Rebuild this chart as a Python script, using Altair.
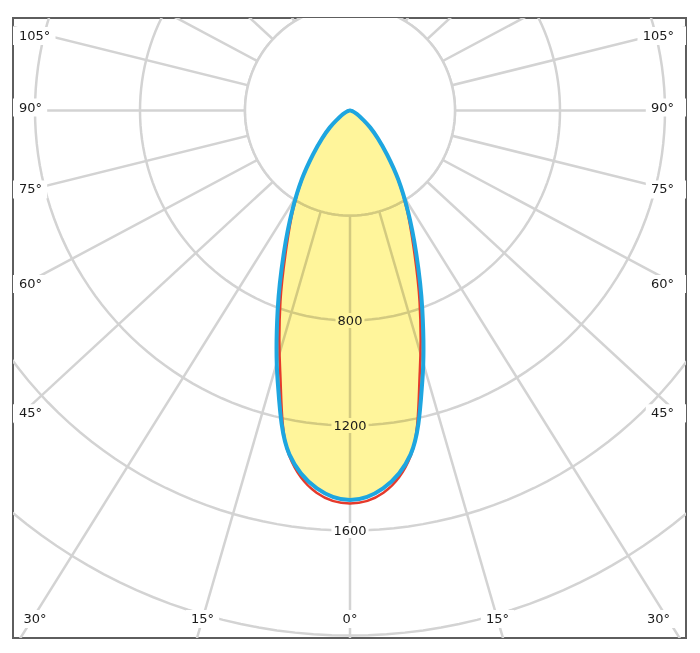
import math
import altair as alt
import pandas as pd

# ---------------- data ----------------
ANGLES = [-90, -85, -80, -75, -70, -65, -60, -55, -50, -45, -40, -35, -30, -25, -20, -15, -10, -5,
          0, 5, 10, 15, 20, 25, 30, 35, 40, 45, 50, 55, 60, 65, 70, 75, 80, 85, 90]
# C90-C270 plane (blue), cd
BLUE_CD = [0, 1, 3, 6, 12, 22, 38, 60, 100, 150, 220, 320, 440, 595, 805, 1065, 1330, 1445,
           1484, 1445, 1330, 1065, 805, 595, 440, 320, 220, 150, 100, 60, 38, 22, 12, 6, 3, 1, 0]
# C0-C180 plane (red), cd
RED_CD = [0, 1, 3, 6, 12, 22, 38, 60, 100, 150, 220, 318, 432, 572, 775, 1028, 1335, 1462,
          1497, 1462, 1335, 1028, 775, 572, 432, 318, 220, 150, 100, 60, 38, 22, 12, 6, 3, 1, 0]

GRID_RADII = [400, 800, 1200, 1600, 2000, 2400]
RAY_ANGLES = [-165, -150, -135, -120, -105, -90, -75, -60, -45, -30, -15, 0,
              15, 30, 45, 60, 75, 90, 105, 120, 135, 150, 165, 180]
SIDE_LABEL_ANGLES = [105, 90, 75, 60, 45]
BOTTOM_LABEL_ANGLES = [-30, -15, 0, 15, 30]
INTENSITY_LABELS = [800, 1200, 1600]

# ---------------- layout / style ----------------
W, H = 673, 620            # plot area in px
PX = 105 / 400             # px per cd
CX, CY = 337.0, 92.5       # pole position inside plot (px)
X_MIN, X_MAX = -CX / PX, (W - CX) / PX
Y_MAX, Y_MIN = CY / PX, -(H - CY) / PX
K = 0.924                  # vertical squash of the angle rays in the reference
RAY_LEN = 4000

GRID = "#d3d3d3"
FONT = "DejaVu Sans"
FS = 13


def px_x(p):
    return (p - CX) / PX


def px_y(p):
    return -(p - CY) / PX


def text_w(t):
    return sum(8.3 if c.isdigit() else 6.6 for c in t)


xs = alt.Scale(domain=[X_MIN, X_MAX], nice=False, zero=False)
ys = alt.Scale(domain=[Y_MIN, Y_MAX], nice=False, zero=False)
X = lambda f: alt.X(f, type="quantitative", scale=xs, axis=None)
Y = lambda f: alt.Y(f, type="quantitative", scale=ys, axis=None)

# ---------------- grid ----------------
circ_angles = list(range(0, 362, 2))
circles = pd.DataFrame([(r, a) for r in GRID_RADII for a in circ_angles], columns=["r", "a"])
circle_layer = alt.Chart(circles).transform_calculate(
    x="datum.r*sin(datum.a*PI/180)", y="-datum.r*cos(datum.a*PI/180)"
).mark_line(stroke=GRID, strokeWidth=2.5, clip=True).encode(
    x=X("x"), y=Y("y"), detail="r:N", order="a:Q")

rays = pd.DataFrame([(a, r) for a in RAY_ANGLES for r in (0, RAY_LEN)], columns=["a", "r"])
ray_layer = alt.Chart(rays).transform_calculate(
    x="datum.r*sin(datum.a*PI/180)", y=f"-datum.r*cos(datum.a*PI/180)*{K}"
).mark_line(stroke=GRID, strokeWidth=2.5, clip=True).encode(
    x=X("x"), y=Y("y"), detail="a:N", order="r:Q")

disk = pd.DataFrame({"a": circ_angles, "r": GRID_RADII[0]})
disk_layer = alt.Chart(disk).transform_calculate(
    x="datum.r*sin(datum.a*PI/180)", y="-datum.r*cos(datum.a*PI/180)"
).mark_line(stroke=GRID, strokeWidth=2.5, fill="white", clip=True).encode(
    x=X("x"), y=Y("y"), order="a:Q")

# ---------------- labels ----------------
rows = []
for ang in SIDE_LABEL_ANGLES:
    t = f"{ang}°"
    th = math.radians(ang)
    yp = CY + (CX - 6) * K * math.cos(th) / math.sin(th) - 3
    yp = max(yp, 18)
    w = text_w(t)
    rows.append(dict(text=t, side="left", tx=px_x(6), ty=px_y(yp),
                     x0=px_x(0), x1=px_x(6 + w + 5), y0=px_y(yp - 9), y1=px_y(yp + 9)))
    rows.append(dict(text=t, side="right", tx=px_x(661), ty=px_y(yp),
                     x0=px_x(661 - w - 5), x1=px_x(W), y0=px_y(yp - 9), y1=px_y(yp + 9)))
for ang in BOTTOM_LABEL_ANGLES:
    t = f"{abs(ang)}°"
    yp = 601
    xp = CX + (yp - CY) * math.tan(math.radians(ang)) / K
    xp = min(max(xp, 22), 645.5)
    w = text_w(t)
    rows.append(dict(text=t, side="center", tx=px_x(xp), ty=px_y(yp),
                     x0=px_x(xp - w / 2 - 5), x1=px_x(xp + w / 2 + 5),
                     y0=px_y(yp - 9), y1=px_y(yp + 9)))
for v in INTENSITY_LABELS:
    t = str(v)
    w = text_w(t)
    rows.append(dict(text=t, side="center", tx=0.0, ty=-float(v),
                     x0=-(w / 2 + 2) / PX, x1=(w / 2 + 2) / PX,
                     y0=-v - 7.5 / PX, y1=-v + 7.5 / PX))
labels = pd.DataFrame(rows)

bg_layer = alt.Chart(labels).mark_rect(fill="white", clip=True).encode(
    x=X("x0"), x2="x1", y=Y("y0"), y2="y1")


def text_layer(side, align):
    return alt.Chart(labels).transform_filter(f"datum.side == '{side}'").mark_text(
        align=align, baseline="middle", font=FONT, fontSize=FS, color="#1a1a1a", clip=True
    ).encode(x=X("tx"), y=Y("ty"), text="text:N")


# ---------------- curves ----------------
curves = pd.DataFrame({"a": ANGLES, "blue": BLUE_CD, "red": RED_CD})
polar = dict(x="datum.cd*sin(datum.a*PI/180)", y="-datum.cd*cos(datum.a*PI/180)")


def curve(plane):
    return alt.Chart(curves).transform_fold([plane], as_=["plane", "cd"]).transform_calculate(**polar)


fill_layer = curve("blue").mark_line(
    fill="#fff59b", blend="multiply", strokeOpacity=0, interpolate="catmull-rom"
).encode(x=X("x"), y=Y("y"), order="a:Q")
red_layer = curve("red").mark_line(
    stroke="#e53a2c", strokeWidth=2.5, interpolate="catmull-rom", clip=True
).encode(x=X("x"), y=Y("y"), order="a:Q")
blue_layer = curve("blue").mark_line(
    stroke="#1ea6e0", strokeWidth=4, interpolate="catmull-rom", clip=True
).encode(x=X("x"), y=Y("y"), order="a:Q")

chart = alt.layer(
    circle_layer, ray_layer, disk_layer, bg_layer, fill_layer, red_layer, blue_layer,
    text_layer("left", "left"), text_layer("right", "right"), text_layer("center", "center"),
).properties(
    width=W, height=H, padding={"left": 5, "top": 10, "right": 5, "bottom": 5}, background="white"
).configure_view(stroke="#5e5e5e", strokeWidth=2)

chart.save("out.html", embed_options={"renderer": "svg", "actions": False})
